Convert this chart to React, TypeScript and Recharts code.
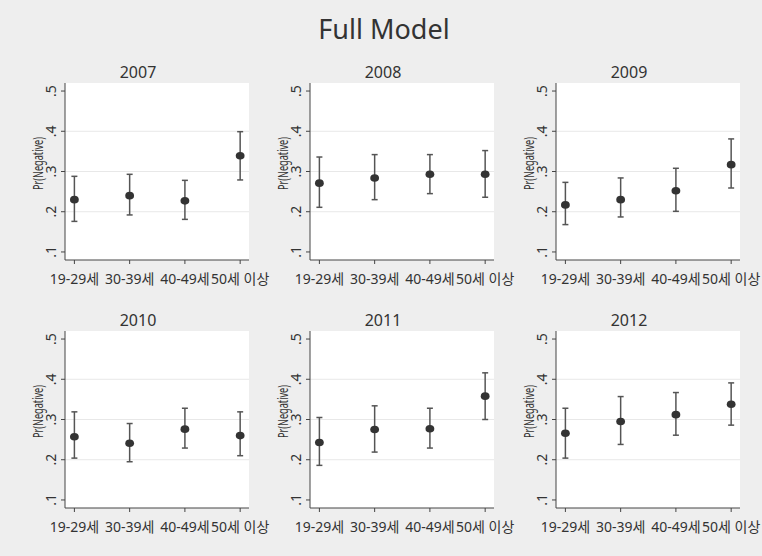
import React from "react"
import { ScatterChart, Scatter, XAxis, YAxis, CartesianGrid, ErrorBar, Label } from "recharts"

const ageGroups = ["19-29세", "30-39세", "40-49세", "50세 이상"]
const years = ["2007", "2008", "2009", "2010", "2011", "2012"]
const yTicks = [0.1, 0.2, 0.3, 0.4, 0.5]
const gridValues = [0.2, 0.3, 0.4]
const xTicks = [1, 2, 3, 4]

// point estimate + 95% CI bounds, per year
const est2007 = [0.230, 0.240, 0.227, 0.339]
const lo2007 = [0.176, 0.192, 0.181, 0.279]
const hi2007 = [0.288, 0.293, 0.278, 0.399]

const est2008 = [0.271, 0.284, 0.293, 0.293]
const lo2008 = [0.211, 0.230, 0.245, 0.236]
const hi2008 = [0.336, 0.342, 0.342, 0.352]

const est2009 = [0.217, 0.230, 0.252, 0.317]
const lo2009 = [0.168, 0.187, 0.201, 0.259]
const hi2009 = [0.273, 0.284, 0.308, 0.381]

const est2010 = [0.257, 0.241, 0.276, 0.260]
const lo2010 = [0.204, 0.195, 0.229, 0.210]
const hi2010 = [0.319, 0.290, 0.328, 0.319]

const est2011 = [0.243, 0.275, 0.277, 0.358]
const lo2011 = [0.186, 0.219, 0.229, 0.300]
const hi2011 = [0.305, 0.334, 0.328, 0.416]

const est2012 = [0.266, 0.295, 0.312, 0.338]
const lo2012 = [0.204, 0.238, 0.261, 0.286]
const hi2012 = [0.328, 0.357, 0.367, 0.391]

const panels = [
  { est: est2007, lo: lo2007, hi: hi2007 },
  { est: est2008, lo: lo2008, hi: hi2008 },
  { est: est2009, lo: lo2009, hi: hi2009 },
  { est: est2010, lo: lo2010, hi: hi2010 },
  { est: est2011, lo: lo2011, hi: hi2011 },
  { est: est2012, lo: lo2012, hi: hi2012 },
].map((p, i) => ({ ...p, year: years[i] }))

// layout (page pixels)
const colLeft = [65, 310, 556]
const chartRight = [280, 525, 762]
const rowTop = [83, 331]
const titleTop = [64, 312]
const AXIS_W = 45
const PLOT_W = 184
const PLOT_H = 177
const TOP_PAD = 5
const X_AXIS_H = 35
const CHART_H = TOP_PAD + PLOT_H + X_AXIS_H

const FONT = '"Noto Sans", "Noto Sans CJK KR", sans-serif'
const TEXT = "#333"
const AXIS = "#444"

const fmtY = (v: number) => v.toFixed(1).replace(/^0/, "")

function YTick(props: any) {
  const { x, y, payload } = props
  return (
    <g transform={`translate(${x - 9},${y})`}>
      <text transform="rotate(-90)" textAnchor="middle" dominantBaseline="central"
        fontSize={14} fill={TEXT} fontFamily={FONT}>
        {fmtY(payload.value)}
      </text>
    </g>
  )
}

function YLabel(props: any) {
  const vb = props.viewBox
  const cx = vb.x + vb.width - 28
  const cy = vb.y + vb.height / 2 - 8
  return (
    <text x={cx} y={cy} transform={`rotate(-90, ${cx}, ${cy})`} textAnchor="middle"
      dominantBaseline="central" fontSize={14} fill={TEXT} fontFamily={FONT}
      textLength={53} lengthAdjust="spacingAndGlyphs">
      Pr(Negative)
    </text>
  )
}

function Marker(props: any) {
  return <ellipse cx={props.cx} cy={props.cy} rx={4.4} ry={3.8} fill="#333" />
}

function Panel({ year, est, lo, hi, col, row }: any) {
  const left = colLeft[col] - AXIS_W
  const top = rowTop[row] - TOP_PAD
  const width = chartRight[col] - left
  const rightPad = col === 2 ? width - AXIS_W - PLOT_W : 13
  const data = est.map((v: number, i: number) => ({
    x: i + 1,
    y: v,
    err: [v - lo[i], hi[i] - v],
  }))

  return (
    <>
      <div style={{
        position: "absolute", left: colLeft[col] + 73 - 50, top: titleTop[row], width: 100,
        textAlign: "center", fontSize: 16, lineHeight: "16px", color: TEXT, fontFamily: FONT,
      }}>
        {year}
      </div>
      <div style={{ position: "absolute", left, top, width, height: CHART_H }}>
        <ScatterChart width={width} height={CHART_H} style={{ overflow: "visible" }}
          margin={{ top: TOP_PAD, right: width - AXIS_W - PLOT_W, bottom: 0, left: 0 }}>
          <CartesianGrid vertical={false} horizontalValues={gridValues} fill="#fff"
            stroke="#e8e8e8" strokeWidth={1} />
          <XAxis type="number" dataKey="x" domain={[0.83, 4.16]} ticks={xTicks} interval={0}
            allowDataOverflow tickFormatter={(v) => ageGroups[v - 1]} tickSize={4} tickMargin={10}
            height={X_AXIS_H} axisLine={{ stroke: AXIS }} tickLine={{ stroke: AXIS }}
            tick={{ fontSize: 14, fill: TEXT, fontFamily: FONT }} />
          <YAxis type="number" dataKey="y" domain={[0.08, 0.52]} ticks={yTicks} interval={0}
            allowDataOverflow width={AXIS_W} tickSize={4} axisLine={{ stroke: AXIS }}
            tickLine={{ stroke: AXIS }} tick={<YTick />}>
            <Label content={<YLabel />} />
          </YAxis>
          <Scatter data={data} isAnimationActive={false} shape={<Marker />}>
            <ErrorBar dataKey="err" direction="y" width={3} stroke="#555" strokeWidth={1.5}
              isAnimationActive={false} />
          </Scatter>
        </ScatterChart>
      </div>
    </>
  )
}

export default function App() {
  return (
    <div style={{ position: "relative", width: 762, height: 556, background: "#eeeeee", overflow: "hidden" }}>
      <style>{"body{margin:0}"}</style>
      <div style={{
        position: "absolute", left: 284, top: 15, width: 200, textAlign: "center",
        fontSize: 27, lineHeight: "27px", color: TEXT, fontFamily: FONT,
      }}>
        Full Model
      </div>
      {panels.map((p, i) => (
        <Panel key={p.year} {...p} col={i % 3} row={Math.floor(i / 3)} />
      ))}
    </div>
  )
}
